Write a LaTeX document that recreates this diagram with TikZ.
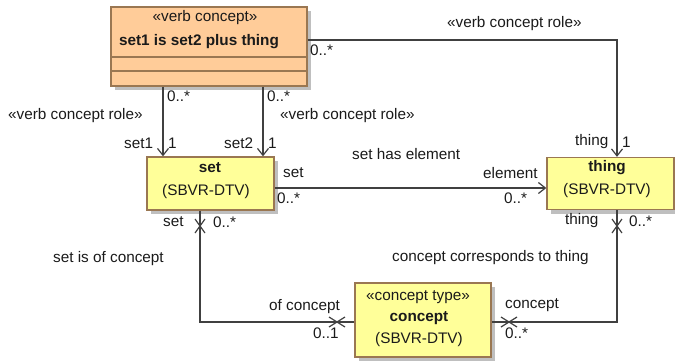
\documentclass[tikz,border=0pt]{standalone}
\usepackage{fontspec}
\setmainfont{Liberation Sans}
\usetikzlibrary{arrows.meta, shadows, calc, positioning}

\definecolor{vcfill}{HTML}{FFCC99}
\definecolor{ntfill}{HTML}{FFFF99}
\definecolor{boxline}{HTML}{9A7752}
\definecolor{connline}{HTML}{404040}
\definecolor{txt}{HTML}{1A1A1A}

\tikzset{
  box/.style={draw=boxline, line width=1.3pt, inner sep=0pt,
    drop shadow={shadow xshift=4pt, shadow yshift=-4pt, fill=black!25, opacity=1}},
  conn/.style={draw=connline, line width=1.2pt},
  nav/.style={conn, -{Straight Barb[length=7pt, width=11pt, line width=1.2pt]}},
  lbl/.style={inner sep=0pt, anchor=west, text=txt},
  ttl/.style={inner sep=0pt, text=txt},
  vx/.pic={\draw[conn] (-5,-7) -- (5,7) (-5,7) -- (5,-7);},
  hx/.pic={\draw[conn] (-8,-5) -- (8,5) (-8,5) -- (8,-5);}
}

\begin{document}
\begin{tikzpicture}[x=1pt, y=-1pt, every node/.append style={font=\fontsize{15.3}{18}\selectfont}]
\useasboundingbox (0,0) rectangle (675,360);

% Klasy
\node[box, fill=vcfill, minimum width=196pt, minimum height=79pt] (vc) at (209,46.5) {};
\draw[boxline, line width=1.2pt] (111,57) -- (307,57) (111,71) -- (307,71);
\node[ttl] (vcst) at (205,18) {«verb concept»};
\node[ttl, font=\fontsize{15.3}{18}\selectfont\bfseries] (vcname) at (199,42) {set1 is set2 plus thing};

\node[box, fill=ntfill, minimum width=127pt, minimum height=53pt] (set) at (210.5,183.5) {};
\node[ttl, font=\fontsize{15.3}{18}\selectfont\bfseries] (setname) at (210,168) {set};
\node[ttl] (setsrc) at (206,192) {(SBVR-DTV)};

\node[box, fill=ntfill, minimum width=127pt, minimum height=52pt] (thing) at (610.5,183.5) {};
\node[ttl, font=\fontsize{15.3}{18}\selectfont\bfseries] (thingname) at (607,168) {thing};
\node[ttl] (thingsrc) at (607,191) {(SBVR-DTV)};

\node[box, fill=ntfill, minimum width=136pt, minimum height=74pt] (concept) at (423,320) {};
\node[ttl] (conceptst) at (418,297) {«concept type»};
\node[ttl, font=\fontsize{15.3}{18}\selectfont\bfseries] (conceptname) at (419,318) {concept};
\node[ttl] (conceptsrc) at (419,340) {(SBVR-DTV)};

% Punkty pomocnicze
\coordinate (r1) at (163,0);
\coordinate (r2) at (263,0);
\coordinate (r3) at (617,40);
\coordinate (r4) at (200,322);
\coordinate (r5) at (617,322);

% Role
\draw[nav] (vc.south -| r1) -- (set.north -| r1);
\draw[nav] (vc.south -| r2) -- (set.north -| r2);
\draw[nav] (vc.east |- r3) -- (r3) -- (thing.north -| r3);
\draw[nav] (set.east |- 0,188) -- (thing.west |- 0,188);
\draw[conn] (set.south -| r4) -- (r4) -- (concept.west |- r4);
\draw[conn] (concept.east |- r5) -- (r5) -- (thing.south -| r5);

% Krzyżyki
\pic at (200,226) {vx};
\pic at (617,226) {vx};
\pic at (337,322) {hx};
\pic at (509,322) {hx};

% Etykiety
\node[lbl] at (8,116) {«verb concept role»};
\node[lbl] at (167,96) {0..*};
\node[lbl] at (124,143) {set1};
\node[lbl] at (168,143) {1};
\node[lbl] at (280,116) {«verb concept role»};
\node[lbl] at (267,96) {0..*};
\node[lbl] at (224,143) {set2};
\node[lbl] at (268,143) {1};
\node[lbl] at (447,24) {«verb concept role»};
\node[lbl] at (310,50) {0..*};
\node[lbl] at (575,142) {thing};
\node[lbl] at (622,142) {1};
\node[lbl] at (352,154) {set has element};
\node[lbl] at (283,173) {set};
\node[lbl] at (277,198) {0..*};
\node[lbl] at (483,173) {element};
\node[lbl] at (504,198) {0..*};
\node[lbl] at (163,222) {set};
\node[lbl] at (213,222) {0..*};
\node[lbl] at (53,259) {set is of concept};
\node[lbl] at (269,307) {of concept};
\node[lbl] at (313,333) {0..1};
\node[lbl] at (565,221) {thing};
\node[lbl] at (629,221) {0..*};
\node[lbl] at (392,258) {concept corresponds to thing};
\node[lbl] at (505,305) {concept};
\node[lbl] at (505,333) {0..*};

\end{tikzpicture}
\end{document}
